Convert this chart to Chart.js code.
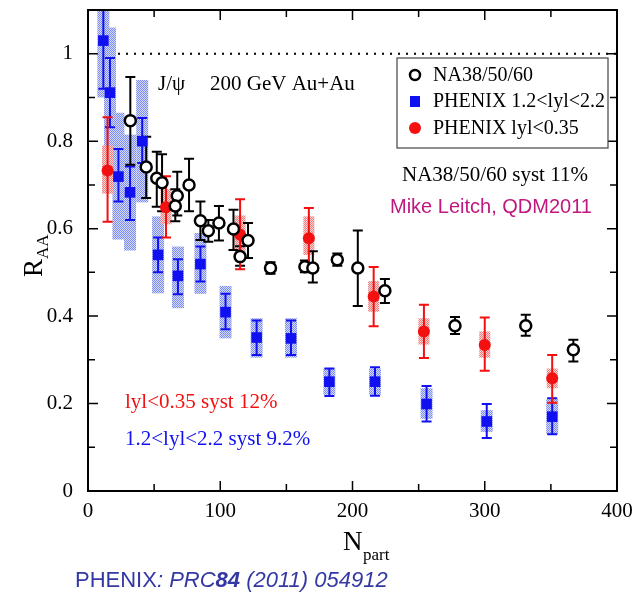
<!DOCTYPE html>
<html>
<head>
<meta charset="utf-8">
<script src="https://cdn.jsdelivr.net/npm/chart.js@4.4.0/dist/chart.umd.min.js"></script>
<style>
  html, body { margin: 0; padding: 0; background: #fff; }
  canvas { display: block; }
</style>
</head>
<body>
<canvas id="raa" width="643" height="598"></canvas>
<script>
// NA38/50/60, stat errors only
const naNpart = [32, 44, 52, 56, 67.5, 66, 76.4, 85, 91, 99, 110, 115, 121, 138, 164, 170, 188.5, 204, 224.5, 277.5, 331, 367];
const naRaa   = [0.847, 0.741, 0.715, 0.705, 0.675, 0.652, 0.70, 0.618, 0.595, 0.613, 0.599, 0.536, 0.573, 0.51, 0.513, 0.51, 0.529, 0.51, 0.458, 0.378, 0.378, 0.323];
const naLo    = [0.746, 0.67, 0.65, 0.64, 0.63, 0.617, 0.64, 0.574, 0.57, 0.573, 0.551, 0.515, 0.533, 0.497, 0.50, 0.477, 0.515, 0.423, 0.43, 0.359, 0.355, 0.296];
const naHi    = [0.947, 0.81, 0.776, 0.77, 0.73, 0.69, 0.76, 0.662, 0.62, 0.652, 0.643, 0.56, 0.613, 0.523, 0.527, 0.548, 0.543, 0.596, 0.485, 0.398, 0.403, 0.346];

// PHENIX forward 1.2<|y|<2.2
const fwdNpart = [11.6, 16.6, 23, 31.8, 41, 53, 68, 85, 104, 127.5, 153.5, 182.5, 217, 256, 301.5, 351];
const fwdRaa   = [1.03, 0.911, 0.719, 0.683, 0.80, 0.54, 0.492, 0.519, 0.409, 0.351, 0.349, 0.25, 0.25, 0.199, 0.159, 0.17];
const fwdLo    = [0.92, 0.832, 0.662, 0.62, 0.75, 0.50, 0.45, 0.479, 0.37, 0.311, 0.311, 0.217, 0.218, 0.159, 0.121, 0.13];
const fwdHi    = [1.2, 0.99, 0.782, 0.742, 0.853, 0.58, 0.53, 0.559, 0.451, 0.39, 0.39, 0.28, 0.283, 0.24, 0.199, 0.212];
const fwdSysLo = [0.90, 0.77, 0.575, 0.55, 0.66, 0.452, 0.418, 0.451, 0.349, 0.305, 0.305, 0.22, 0.22, 0.165, 0.135, 0.13];
const fwdSysHi = [1.16, 1.06, 0.865, 0.815, 0.94, 0.628, 0.559, 0.59, 0.469, 0.395, 0.395, 0.28, 0.28, 0.235, 0.185, 0.21];

// PHENIX mid-rapidity |y|<0.35
const midNpart = [14.8, 59, 115, 167, 216, 254, 300, 351];
const midRaa   = [0.733, 0.649, 0.586, 0.578, 0.445, 0.365, 0.334, 0.258];
const midLo    = [0.616, 0.58, 0.507, 0.51, 0.377, 0.304, 0.275, 0.202];
const midHi    = [0.855, 0.72, 0.667, 0.647, 0.512, 0.426, 0.397, 0.311];
const midSysLo = [0.68, 0.61, 0.545, 0.54, 0.41, 0.335, 0.305, 0.235];
const midSysHi = [0.79, 0.69, 0.63, 0.628, 0.48, 0.395, 0.365, 0.28];

const xTicks = [0, 100, 200, 300, 400];
const yTicks = [0, 0.2, 0.4, 0.6, 0.8, 1];

const SERIF = '"Liberation Serif", "Times New Roman", serif';
const SANS = '"Liberation Sans", Arial, sans-serif';
const RED = '#f21010';
const BLUE = '#1010f0';

const pts = (xs, ys) => xs.map((x, i) => ({ x, y: ys[i] }));

function hatch(dark, light) {
  const c = document.createElement('canvas');
  c.width = 2; c.height = 2;
  const g = c.getContext('2d');
  g.fillStyle = light; g.fillRect(0, 0, 2, 2);
  g.fillStyle = dark; g.fillRect(0, 0, 1, 1); g.fillRect(1, 1, 1, 1);
  return c;
}

function sysBoxes(ctx, x, y, xs, lo, hi, fill, half) {
  ctx.fillStyle = fill;
  xs.forEach((v, i) => {
    const px = x.getPixelForValue(v);
    const top = y.getPixelForValue(hi[i]);
    const bot = y.getPixelForValue(lo[i]);
    ctx.fillRect(px - half, top, half * 2, bot - top);
  });
}

function errBars(ctx, x, y, xs, lo, hi, color, cap) {
  ctx.strokeStyle = color;
  ctx.lineWidth = 2;
  xs.forEach((v, i) => {
    const px = x.getPixelForValue(v);
    const top = y.getPixelForValue(hi[i]);
    const bot = y.getPixelForValue(lo[i]);
    ctx.beginPath();
    ctx.moveTo(px, top); ctx.lineTo(px, bot);
    ctx.moveTo(px - cap, top); ctx.lineTo(px + cap, top);
    ctx.moveTo(px - cap, bot); ctx.lineTo(px + cap, bot);
    ctx.stroke();
  });
}

const decorations = {
  id: 'decorations',
  beforeDatasetsDraw(chart) {
    const { ctx, chartArea: a, scales: { x, y } } = chart;
    ctx.save();
    ctx.beginPath();
    ctx.rect(a.left, a.top, a.right - a.left, a.bottom - a.top);
    ctx.clip();

    const blueFill = ctx.createPattern(hatch('#7d8cf2', '#d4daf9'), 'repeat');
    const redFill = ctx.createPattern(hatch('#f27b7b', '#fbd6d6'), 'repeat');
    sysBoxes(ctx, x, y, fwdNpart, fwdSysLo, fwdSysHi, blueFill, 6);
    sysBoxes(ctx, x, y, midNpart, midSysLo, midSysHi, redFill, 5.5);

    // unity line
    ctx.strokeStyle = '#000';
    ctx.lineWidth = 2;
    ctx.setLineDash([2, 6]);
    ctx.beginPath();
    ctx.moveTo(a.left + 30, y.getPixelForValue(1));
    ctx.lineTo(a.right, y.getPixelForValue(1));
    ctx.stroke();
    ctx.setLineDash([]);

    errBars(ctx, x, y, fwdNpart, fwdLo, fwdHi, BLUE, 5);
    errBars(ctx, x, y, naNpart, naLo, naHi, '#000', 5);
    errBars(ctx, x, y, midNpart, midLo, midHi, RED, 5);
    ctx.restore();
  },
  afterDraw(chart) {
    const { ctx, chartArea: a, scales: { x, y } } = chart;
    ctx.save();

    // frame with inward ticks on all four sides
    ctx.strokeStyle = '#000';
    ctx.lineWidth = 2;
    ctx.strokeRect(a.left, a.top, a.right - a.left, a.bottom - a.top);
    ctx.lineWidth = 1.5;
    ctx.beginPath();
    x.ticks.forEach(t => {
      const px = x.getPixelForValue(t.value);
      const len = Math.round(t.value) % 100 === 0 ? 10 : 7;
      ctx.moveTo(px, a.bottom); ctx.lineTo(px, a.bottom - len);
      ctx.moveTo(px, a.top); ctx.lineTo(px, a.top + len);
    });
    y.ticks.forEach(t => {
      const py = y.getPixelForValue(t.value);
      const len = Math.round(t.value * 10) % 2 === 0 ? 10 : 7;
      ctx.moveTo(a.left, py); ctx.lineTo(a.left + len, py);
      ctx.moveTo(a.right, py); ctx.lineTo(a.right - len, py);
    });
    ctx.stroke();

    // axis titles
    ctx.fillStyle = '#000';
    ctx.textBaseline = 'alphabetic';
    ctx.save();
    ctx.translate(42, 277);
    ctx.rotate(-Math.PI / 2);
    ctx.font = '27px ' + SERIF;
    ctx.fillText('R', 0, 0);
    const rw = ctx.measureText('R').width;
    ctx.font = '17px ' + SERIF;
    ctx.fillText('AA', rw, 6);
    ctx.restore();

    ctx.font = '27px ' + SERIF;
    ctx.fillText('N', 343, 550);
    ctx.font = '17px ' + SERIF;
    ctx.fillText('part', 363, 560);

    // labels inside the frame
    ctx.textBaseline = 'middle';
    ctx.font = '21px ' + SERIF;
    ctx.fillText('J/\u03c8', 158, 84);
    ctx.fillText('200 GeV Au+Au', 210, 84);
    ctx.fillText('NA38/50/60 syst 11%', 402, 175);
    ctx.font = '20px ' + SANS;
    ctx.fillStyle = '#c0187e';
    ctx.fillText('Mike Leitch, QDM2011', 390, 207);
    ctx.font = '21px ' + SERIF;
    ctx.fillStyle = RED;
    ctx.fillText('lyl<0.35 syst 12%', 125, 402);
    ctx.fillStyle = BLUE;
    ctx.fillText('1.2<lyl<2.2 syst 9.2%', 125, 439);

    // legend
    ctx.fillStyle = '#fff';
    ctx.fillRect(397, 58, 211, 90);
    ctx.strokeStyle = '#444';
    ctx.lineWidth = 1.2;
    ctx.strokeRect(397, 58, 211, 90);
    ctx.lineWidth = 2.5;
    ctx.strokeStyle = '#000';
    ctx.beginPath(); ctx.arc(415, 75, 5, 0, Math.PI * 2); ctx.stroke();
    ctx.fillStyle = BLUE;
    ctx.fillRect(410, 96, 10, 11);
    ctx.fillStyle = RED;
    ctx.beginPath(); ctx.arc(415, 128, 6, 0, Math.PI * 2); ctx.fill();
    ctx.fillStyle = '#000';
    ctx.font = '20px ' + SERIF;
    ctx.fillText('NA38/50/60', 433, 76);
    ctx.fillText('PHENIX 1.2<lyl<2.2', 433, 102);
    ctx.fillText('PHENIX lyl<0.35', 433, 129);

    // reference line under the plot
    ctx.textBaseline = 'alphabetic';
    ctx.fillStyle = '#3438a2';
    let fx = 75;
    const parts = [
      ['PHENIX', ''], [':', 'italic '], [' PRC', 'italic '],
      ['84', 'italic bold '], [' (2011) 054912', 'italic ']
    ];
    parts.forEach(([s, style]) => {
      ctx.font = style + '22px ' + SANS;
      ctx.fillText(s, fx, 587);
      fx += ctx.measureText(s).width;
    });
    ctx.restore();
  }
};

new Chart(document.getElementById('raa'), {
  type: 'scatter',
  data: {
    datasets: [
      {
        label: 'PHENIX 1.2<lyl<2.2',
        data: pts(fwdNpart, fwdRaa),
        pointStyle: 'rect',
        pointRadius: 7.5,
        backgroundColor: BLUE,
        borderColor: BLUE,
        borderWidth: 0
      },
      {
        label: 'NA38/50/60',
        data: pts(naNpart, naRaa),
        pointRadius: 5.5,
        backgroundColor: '#fff',
        borderColor: '#000',
        borderWidth: 2.5
      },
      {
        label: 'PHENIX lyl<0.35',
        data: pts(midNpart, midRaa),
        pointRadius: 6,
        backgroundColor: RED,
        borderColor: RED,
        borderWidth: 0
      }
    ]
  },
  options: {
    responsive: false,
    devicePixelRatio: 1,
    animation: false,
    layout: { padding: { top: 10, right: 26, left: 0, bottom: 0 } },
    plugins: { legend: { display: false }, tooltip: { enabled: false } },
    scales: {
      x: {
        type: 'linear',
        min: 0,
        max: 400,
        grid: { display: false },
        border: { display: false },
        afterFit: s => { s.height = 107; },
        ticks: {
          stepSize: 50,
          autoSkip: false,
          maxRotation: 0,
          padding: 0,
          color: '#000',
          font: { family: SERIF, size: 21 },
          callback: v => xTicks.includes(v) ? String(v) : ''
        }
      },
      y: {
        min: 0,
        max: 1.1,
        grid: { display: false },
        border: { display: false },
        afterFit: s => { s.width = 88; s.paddingTop = 0; s.paddingBottom = 0; },
        ticks: {
          stepSize: 0.1,
          autoSkip: false,
          padding: 7,
          color: '#000',
          font: { family: SERIF, size: 21 },
          callback: v => {
            const r = Math.round(v * 10) / 10;
            return yTicks.includes(r) ? String(r) : '';
          }
        }
      }
    }
  },
  plugins: [decorations]
});
</script>
</body>
</html>
